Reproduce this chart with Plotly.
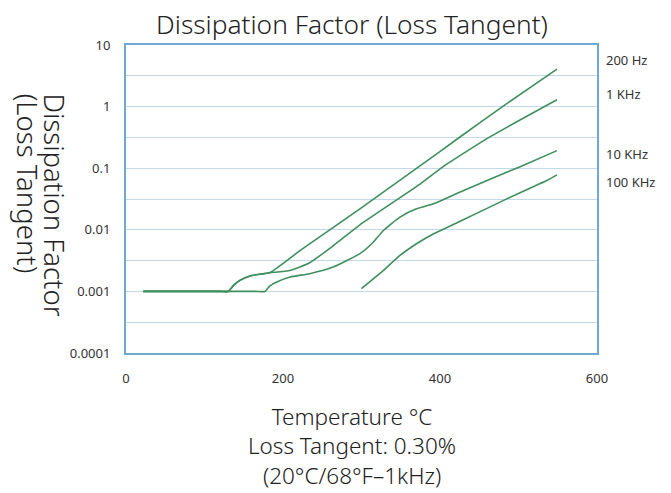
import math
import plotly.graph_objects as go

# ---- data ----
series_names = ["200 Hz", "1 KHz", "10 KHz", "100 KHz"]

t_200hz = [22, 60, 100, 120, 130, 137, 145, 158, 171, 183, 222, 298, 375, 425, 481, 549]
v_200hz = [0.001, 0.001, 0.001, 0.001, 0.001, 0.00125, 0.00151, 0.00178, 0.00191, 0.00201,
           0.00462, 0.0219, 0.110, 0.318, 1.03, 4.06]

t_1khz = [22, 60, 100, 120, 130, 137, 145, 158, 171, 183, 209, 234, 264, 298, 375, 404, 464, 549]
v_1khz = [0.001, 0.001, 0.001, 0.001, 0.001, 0.00125, 0.00151, 0.00178, 0.00191, 0.00201,
          0.00219, 0.00292, 0.00551, 0.01205, 0.0557, 0.106, 0.325, 1.29]

t_10khz = [22, 60, 100, 140, 165, 177, 183, 192, 209, 234, 264, 298, 313, 328, 349, 370, 392, 425, 502, 549]
v_10khz = [0.001, 0.001, 0.001, 0.001, 0.001, 0.001, 0.00122, 0.00142, 0.00171, 0.00194, 0.00248,
           0.0041, 0.00593, 0.00975, 0.0161, 0.0219, 0.0264, 0.0408, 0.106, 0.193]

t_100khz = [300, 328, 349, 370, 392, 425, 485, 536, 549]
v_100khz = [0.00111, 0.00219, 0.00383, 0.00593, 0.0086, 0.0136, 0.0318, 0.063, 0.0778]

x_ticks = [0, 200, 400, 600]
y_tick_vals = [0.0001, 10 ** -3.5, 0.001, 10 ** -2.5, 0.01, 10 ** -1.5, 0.1, 10 ** -0.5, 1, 10 ** 0.5, 10]
y_tick_text = ["0.0001", "", "0.001", "", "0.01", "", "0.1", "", "1", "", "10"]

title_text = "Dissipation Factor (Loss Tangent)"
y_title_lines = ["Dissipation Factor", "(Loss Tangent)"]
x_title = "Temperature °C<br>Loss Tangent: 0.30%<br>(20°C/68°F–1kHz)"

# ---- style ----
FONT = "Noto Sans"
GREEN = "#3f8f5e"
GRID = "#c3d9ea"
BORDER = "#6fa9d2"
TXT = "#333333"
DARK = "#222222"
label_shift = [9, 6, -3, -7]

fig = go.Figure()
all_series = [(t_200hz, v_200hz), (t_1khz, v_1khz), (t_10khz, v_10khz), (t_100khz, v_100khz)]
for name, (t, v) in zip(series_names, all_series):
    fig.add_trace(go.Scatter(
        x=t, y=v, mode="lines", name=name,
        line=dict(color=GREEN, width=1.6, shape="spline", smoothing=0.5),
        showlegend=False, hoverinfo="skip"))

annotations = []
for name, (t, v), dy in zip(series_names, all_series, label_shift):
    annotations.append(dict(
        text=name, xref="paper", x=1.0, xshift=7, xanchor="left",
        yref="y", y=math.log10(v[-1]), yshift=dy, yanchor="middle",
        showarrow=False, font=dict(family=FONT, size=13, color=TXT)))

# rotated y-axis title (reads top to bottom), two columns, top aligned
for line, xp in zip(y_title_lines, [-0.151, -0.210]):
    annotations.append(dict(
        text=line, textangle=90, xref="paper", yref="paper",
        x=xp, y=0.848, xanchor="center", yanchor="top", showarrow=False,
        font=dict(family=FONT, size=27.5, color=DARK, weight=300)))

# x-axis title, three centred lines
annotations.append(dict(
    text=x_title, xref="paper", yref="paper",
    x=0.48, y=(353 - 399) / 308, xanchor="center", yanchor="top",
    align="center", showarrow=False,
    font=dict(family=FONT, size=22.5, color=DARK, weight=300)))

fig.update_layout(
    width=671, height=493,
    margin=dict(l=126, r=74, t=45, b=140),
    paper_bgcolor="white", plot_bgcolor="white",
    title=dict(text=title_text, x=352 / 671, xanchor="center",
               y=1 - 25 / 493, yanchor="middle", yref="container",
               font=dict(family=FONT, size=26.3, color=DARK, weight=300)),
    annotations=annotations,
    xaxis=dict(range=[0, 600], tickvals=x_ticks, showgrid=False, zeroline=False,
               showline=True, linecolor=BORDER, linewidth=2, mirror=True,
               ticks="", ticklabelstandoff=12,
               tickfont=dict(family=FONT, size=13, color=TXT)),
    yaxis=dict(type="log", range=[-4, 1], tickvals=y_tick_vals, ticktext=y_tick_text,
               showgrid=True, gridcolor=GRID, gridwidth=1.2, zeroline=False,
               showline=True, linecolor=BORDER, linewidth=2, mirror=True,
               ticks="", ticklabelstandoff=11,
               tickfont=dict(family=FONT, size=13, color=TXT)),
)

fig.write_html("out.html")
